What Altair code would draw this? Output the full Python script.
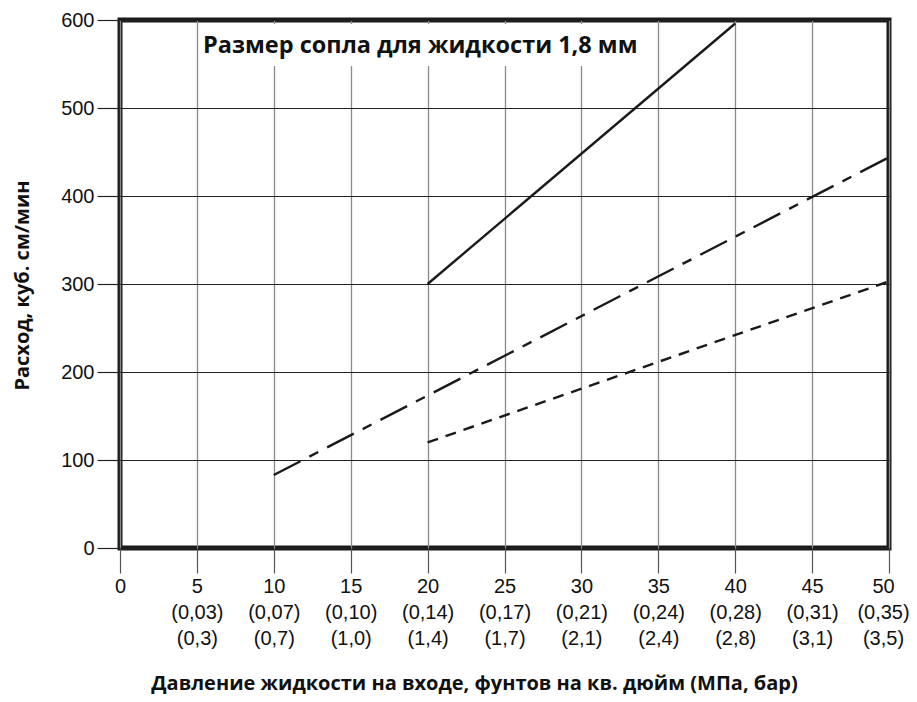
import altair as alt
import pandas as pd

# ---- data ----
x_ticks = [0, 5, 10, 15, 20, 25, 30, 35, 40, 45, 50]
mpa_labels = ["", "(0,03)", "(0,07)", "(0,10)", "(0,14)", "(0,17)", "(0,21)", "(0,24)", "(0,28)", "(0,31)", "(0,35)"]
bar_labels = ["", "(0,3)", "(0,7)", "(1,0)", "(1,4)", "(1,7)", "(2,1)", "(2,4)", "(2,8)", "(3,1)", "(3,5)"]
y_ticks = [0, 100, 200, 300, 400, 500, 600]

solid_x = [20, 40]
solid_y = [300, 596]
dashdot_x = [10, 50]
dashdot_y = [83, 444]
dashed_x = [20, 50]
dashed_y = [120, 303]

title_text = "Размер сопла для жидкости 1,8 мм"
x_title = "Давление жидкости на входе, фунтов на кв. дюйм (МПа, бар)"
y_title = "Расход, куб. см/мин"

# ---- build label expression (multi-line x labels) ----
def js_list(items):
    return "[" + ",".join("'" + s + "'" for s in items) + "]"

rows = []
for v, m, b in zip(x_ticks, mpa_labels, bar_labels):
    if m:
        rows.append(js_list([str(v), m, b]))
    else:
        rows.append(js_list([str(v)]))
label_expr = "[" + ",".join(rows) + "][round(datum.value / 5)]"

W, H = 769, 528

xscale = alt.Scale(domain=[0, 50], nice=False, zero=False)
yscale = alt.Scale(domain=[0, 600], nice=False)

xaxis = alt.Axis(
    values=x_ticks, labelExpr=label_expr, labelLineHeight=26,
    labelFontSize=20, labelFont="Liberation Sans", labelColor="#111",
    labelPadding=3, tickSize=25, tickColor="#555", tickWidth=1.2,
    labelOffset={"condition": {"test": "datum.value == 50", "value": -6}, "value": 0},
    domain=False, grid=True, gridColor="#8a8a8a", gridWidth=1.3,
    title=x_title, titleFont="Open Sans", titleFontSize=20, titleFontWeight="bold",
    titleColor="#111", titleX=354, titleY=141, titleAlign="center",
    titleBaseline="alphabetic", labelFlush=False, labelOverlap=False,
)
yaxis = alt.Axis(
    values=y_ticks, labelFontSize=20, labelFont="Liberation Sans", labelColor="#111",
    labelPadding=3, tickSize=23, tickColor="#222", tickWidth=1.2,
    domain=False, grid=True, gridColor="#222", gridWidth=1.1,
    title=y_title, titleFont="Open Sans", titleFontSize=20, titleFontWeight="bold",
    titleColor="#111", titleX=-92, titleY=265, titleAlign="center",
    titleBaseline="alphabetic", titleAngle=-90, labelFlush=False, labelOverlap=False,
)

def line_df(xs, ys):
    return pd.DataFrame({"x": xs, "y": ys})

base_solid = alt.Chart(line_df(solid_x, solid_y)).mark_line(
    color="#1a1a1a", strokeWidth=2.4
).encode(
    x=alt.X("x:Q", scale=xscale, axis=xaxis),
    y=alt.Y("y:Q", scale=yscale, axis=yaxis),
)

dashdot = alt.Chart(line_df(dashdot_x, dashdot_y)).mark_line(
    color="#1a1a1a", strokeWidth=2.4, strokeDash=[30, 10, 10, 10]
).encode(x=alt.X("x:Q", scale=xscale), y=alt.Y("y:Q", scale=yscale))

dashed = alt.Chart(line_df(dashed_x, dashed_y)).mark_line(
    color="#1a1a1a", strokeWidth=2.4, strokeDash=[11, 8]
).encode(x=alt.X("x:Q", scale=xscale), y=alt.Y("y:Q", scale=yscale))

label_bg = alt.Chart(pd.DataFrame({"t": [title_text]})).mark_rect(
    fill="white"
).encode(
    x=alt.value(80), x2=alt.value(524), y=alt.value(4), y2=alt.value(46)
)
label = alt.Chart(pd.DataFrame({"t": [title_text]})).mark_text(
    align="left", baseline="middle", font="Open Sans", fontSize=23.5,
    fontWeight="bold", color="#111"
).encode(x=alt.value(83), y=alt.value(26), text="t:N")

chart = alt.layer(base_solid, dashdot, dashed, label_bg, label).properties(
    width=W, height=H,
    background="white",
    autosize=alt.AutoSizeParams(type="none"),
    padding={"left": 112, "top": 12, "right": 20, "bottom": 146},
).configure_view(
    stroke="#1a1a1a", strokeWidth=5
)

chart.save("out.html", embed_options={"renderer": "svg", "actions": False})
